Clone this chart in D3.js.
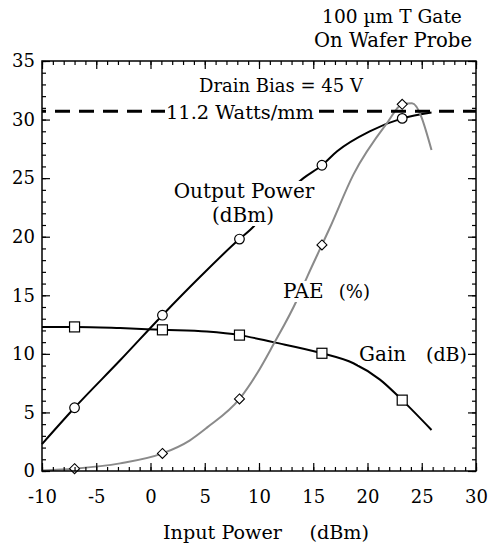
<!DOCTYPE html>
<html>
<head>
<meta charset="utf-8">
<script src="https://cdn.jsdelivr.net/npm/d3@7/dist/d3.min.js"></script>
<style>
  html, body { margin: 0; padding: 0; background: #fff; }
  svg { display: block; }
  text { font-family: "DejaVu Serif", serif; fill: #000; }
</style>
</head>
<body>
<svg id="chart" width="490" height="548"></svg>
<script>
// ---- data ----
const xTicks = [-10, -5, 0, 5, 10, 15, 20, 25, 30];
const yTicks = [0, 5, 10, 15, 20, 25, 30, 35];

const outX = [-10, -7, -2.8, 1.1, 4.6, 8.2, 9.2, 11.5, 14.1, 15.8, 17.2, 20.2, 23.2, 25.9];
const outY = [2.3, 5.4, 9.45, 13.3, 16.6, 19.8, 20.6, 22.9, 25.0, 26.1, 27.3, 29.0, 30.1, 30.6];
const outMarkX = [-7, 1.1, 8.2, 15.8, 23.2];
const outMarkY = [5.4, 13.3, 19.8, 26.1, 30.1];

const paeX = [-10, -7, -2.8, 1.1, 3.6, 5.2, 8.2, 9.8, 11.3, 13.5, 14.5, 15.8, 16.5, 18.7, 21.8, 23.2, 24.1, 25.9];
const paeY = [0.05, 0.2, 0.65, 1.5, 2.6, 3.7, 6.15, 8.3, 10.75, 14.6, 16.7, 19.3, 20.7, 25.3, 29.7, 31.3, 31.4, 27.4];
const paeMarkX = [-7, 1.1, 8.2, 15.8, 23.2];
const paeMarkY = [0.2, 1.5, 6.15, 19.3, 31.3];

const gainX = [-10, -6.9, -2.8, 1.1, 5.2, 8.2, 11.3, 15.8, 18.7, 21.15, 23.2, 25.9];
const gainY = [12.3, 12.3, 12.2, 12.05, 11.9, 11.6, 11.0, 10.05, 9.2, 7.8, 6.05, 3.5];
const gainMarkX = [-7, 1.1, 8.2, 15.8, 23.2];
const gainMarkY = [12.3, 12.05, 11.6, 10.05, 6.05];

const refLevel = 30.7; // 11.2 W/mm line

// ---- layout ----
const L = 42, R = 476, T = 61, B = 471;
const svg = d3.select("#chart");
const x = d3.scaleLinear().domain([-10, 30]).range([L, R]);
const y = d3.scaleLinear().domain([0, 35]).range([B, T]);

const zip = (a, b) => a.map((v, i) => [v, b[i]]);
const line = d3.line().x(d => x(d[0])).y(d => y(d[1])).curve(d3.curveMonotoneX);

// curves
svg.append("path").datum(zip(outX, outY)).attr("d", line)
  .attr("fill", "none").attr("stroke", "#000").attr("stroke-width", 2);
svg.append("path").datum(zip(gainX, gainY)).attr("d", line)
  .attr("fill", "none").attr("stroke", "#000").attr("stroke-width", 2);
svg.append("path").datum(zip(paeX, paeY)).attr("d", line)
  .attr("fill", "none").attr("stroke", "#8a8a8a").attr("stroke-width", 2);

// dashed reference line
svg.append("line").attr("x1", x(-10)).attr("x2", x(30))
  .attr("y1", y(refLevel)).attr("y2", y(refLevel))
  .attr("stroke", "#000").attr("stroke-width", 3).attr("stroke-dasharray", "15,9")
  .attr("stroke-dashoffset", 11);

// markers
svg.selectAll(".c").data(zip(outMarkX, outMarkY)).enter().append("circle")
  .attr("cx", d => x(d[0])).attr("cy", d => y(d[1])).attr("r", 4.8)
  .attr("fill", "#fff").attr("stroke", "#000").attr("stroke-width", 1.2);
svg.selectAll(".s").data(zip(gainMarkX, gainMarkY)).enter().append("rect")
  .attr("x", d => x(d[0]) - 5).attr("y", d => y(d[1]) - 5).attr("width", 10).attr("height", 10)
  .attr("fill", "#fff").attr("stroke", "#000").attr("stroke-width", 1.2);
svg.selectAll(".d").data(zip(paeMarkX, paeMarkY)).enter().append("path")
  .attr("d", d => {
    const cx = x(d[0]), cy = y(d[1]), r = 5;
    return `M${cx},${cy - r}L${cx + r},${cy}L${cx},${cy + r}L${cx - r},${cy}Z`;
  })
  .attr("fill", "#fff").attr("stroke", "#000").attr("stroke-width", 1.1);

// text block: lines = [[string, x, baseline, anchor, size], ...], one white box behind all
function block(lines, bg) {
  const g = svg.append("g");
  const rect = g.append("rect").attr("fill", "#fff");
  const nodes = lines.map(([s, px, py, anchor, size]) =>
    g.append("text").attr("x", px).attr("y", py).attr("text-anchor", anchor)
      .attr("font-size", size).attr("xml:space", "preserve").text(s).node());
  if (bg) {
    const bbs = nodes.map(n => n.getBBox());
    const x0 = d3.min(bbs, b => b.x) - 1, x1 = d3.max(bbs, b => b.x + b.width) + 1;
    const y0 = d3.min(bbs, b => b.y) + 2, y1 = d3.max(bbs, b => b.y + b.height) - 1;
    rect.attr("x", x0).attr("y", y0).attr("width", x1 - x0).attr("height", y1 - y0);
  } else rect.remove();
}
block([["100 \u00b5m T Gate", 392, 23, "middle", 18.6], ["On Wafer Probe", 393, 47, "middle", 19.6]], false);
block([["Drain Bias = 45 V", 281, 92, "middle", 18]], false);
block([["11.2 Watts/mm", 240, 119, "middle", 19.4]], true);
block([["Output Power", 244, 198, "middle", 20], ["(dBm)", 243, 222, "middle", 20]], true);
block([["PAE", 283, 298, "start", 20]], true);
block([["(%)", 370, 298, "end", 18]], true);
block([["Gain", 359, 361, "start", 20]], true);
block([["(dB)", 467, 361, "end", 19]], true);

// axis title
block([["Input Power", 163, 539, "start", 19.2], ["(dBm)", 369, 539, "end", 19.2]], false);

// frame
svg.append("rect").attr("x", L).attr("y", T).attr("width", R - L).attr("height", B - T)
  .attr("fill", "none").attr("stroke", "#000").attr("stroke-width", 1.5);

// ticks (inward, all four sides)
const xMinor = d3.range(-10, 31, 1);
const yMinor = d3.range(0, 36, 1);
const fmt = d => String(d);
const axBot = d3.axisBottom(x).tickValues(xMinor).tickSize(-4).tickFormat("");
const axTop = d3.axisTop(x).tickValues(xMinor).tickSize(-4).tickFormat("");
const axLeft = d3.axisLeft(y).tickValues(yMinor).tickSize(-4).tickFormat("");
const axRight = d3.axisRight(y).tickValues(yMinor).tickSize(-4).tickFormat("");
const axBotM = d3.axisBottom(x).tickValues(xTicks).tickSize(-8).tickPadding(19).tickFormat(fmt);
const axTopM = d3.axisTop(x).tickValues(xTicks).tickSize(-8).tickFormat("");
const axLeftM = d3.axisLeft(y).tickValues(yTicks).tickSize(-8).tickPadding(7).tickFormat(fmt);
const axRightM = d3.axisRight(y).tickValues(yTicks).tickSize(-8).tickFormat("");

function put(ax, tr) {
  const g = svg.append("g").attr("transform", tr).call(ax);
  g.select(".domain").remove();
  g.selectAll("line").attr("stroke", "#000").attr("stroke-width", 1.2);
  g.selectAll("text").attr("font-family", "DejaVu Serif, serif").attr("font-size", 18).attr("fill", "#000");
  return g;
}
put(axBot, `translate(0,${B})`);
put(axTop, `translate(0,${T})`);
put(axLeft, `translate(${L},0)`);
put(axRight, `translate(${R},0)`);
put(axBotM, `translate(0,${B})`);
put(axTopM, `translate(0,${T})`);
put(axLeftM, `translate(${L},0)`);
put(axRightM, `translate(${R},0)`);
</script>
</body>
</html>
